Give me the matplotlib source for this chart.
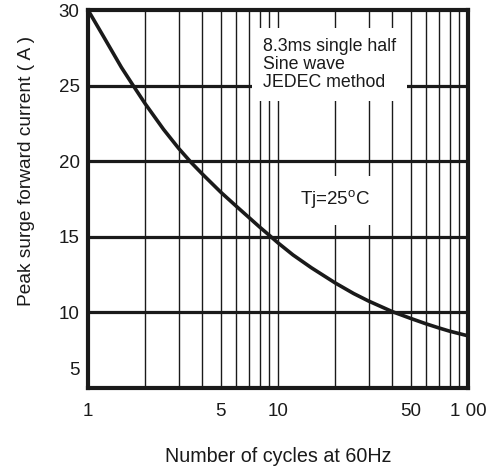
import matplotlib
matplotlib.use("Agg")
import matplotlib.pyplot as plt

plt.rcParams["font.family"] = ["Liberation Sans", "DejaVu Sans"]
plt.rcParams["mathtext.fontset"] = "custom"
plt.rcParams["mathtext.rm"] = "Liberation Sans"

# surge curve
cycles = [1, 1.2, 1.5, 1.73, 2, 2.5, 3, 3.5, 4, 5, 6, 7, 8, 9, 10,
          12, 15, 20, 25, 30, 40, 50, 60, 70, 80, 100]
current = [30.0, 28.3, 26.2, 25.0, 23.8, 22.1, 20.85, 19.9, 19.15, 17.95, 17.05,
           16.3, 15.65, 15.1, 14.6, 13.8, 12.95, 11.95, 11.25, 10.75, 10.05,
           9.6, 9.25, 8.98, 8.76, 8.45]

x_ticks = [1, 5, 10, 50, 100]
x_labels = ["1", "5", "10", "50", "1 00"]
y_ticks = [6.3, 10, 15, 20, 25, 30]
y_labels = ["5", "10", "15", "20", "25", "30"]
minor_x = [2, 3, 4, 5, 6, 7, 8, 9, 10, 20, 30, 40, 50, 60, 70, 80, 90]
major_y = [10, 15, 20, 25]

ink = "#1a1a1a"

fig = plt.figure(figsize=(4.9, 4.66), dpi=100)
ax = fig.add_axes([0.1796, 0.1674, 0.955 - 0.1796, 0.9785 - 0.1674])

ax.set_xscale("log")
ax.set_xlim(1, 100)
ax.set_ylim(5, 30)

for xv in minor_x:
    ax.axvline(xv, color=ink, linewidth=1.0, zorder=1)
for yv in major_y:
    ax.axhline(yv, color=ink, linewidth=2.3, zorder=1)

ax.plot(cycles, current, color=ink, linewidth=2.6, zorder=4,
        solid_joinstyle="round")

ax.set_xticks(x_ticks)
ax.set_xticklabels(x_labels)
ax.set_xticks([], minor=True)
ax.set_yticks(y_ticks)
ax.set_yticklabels(y_labels)
ax.tick_params(axis="both", length=0, labelsize=13.5, colors=ink)
ax.tick_params(axis="x", pad=11)
ax.tick_params(axis="y", pad=6)

for spine in ax.spines.values():
    spine.set_linewidth(3.0)
    spine.set_color(ink)
    spine.set_zorder(5)

ax.text(0.46, 0.925, "8.3ms single half\nSine wave\nJEDEC method",
        transform=ax.transAxes, ha="left", va="top", fontsize=12.8,
        linespacing=1.05, color=ink, zorder=3,
        bbox=dict(boxstyle="square,pad=0.6", facecolor="white", edgecolor="none"))

ax.text(0.558, 0.497, r"Tj=25$^{\rm o}$C",
        transform=ax.transAxes, ha="left", va="center", fontsize=13.5,
        color=ink, zorder=3,
        bbox=dict(boxstyle="square,pad=0.7", facecolor="white", edgecolor="none"))

ax.set_xlabel("Number of cycles at 60Hz", fontsize=14.2, color=ink)
ax.set_ylabel("Peak surge forward current ( A )", fontsize=13.8, color=ink)
ax.xaxis.set_label_coords(0.5, -0.155)
ax.yaxis.set_label_coords(-0.14, 0.573)

fig.savefig("out.png", dpi=100)
plt.close(fig)
